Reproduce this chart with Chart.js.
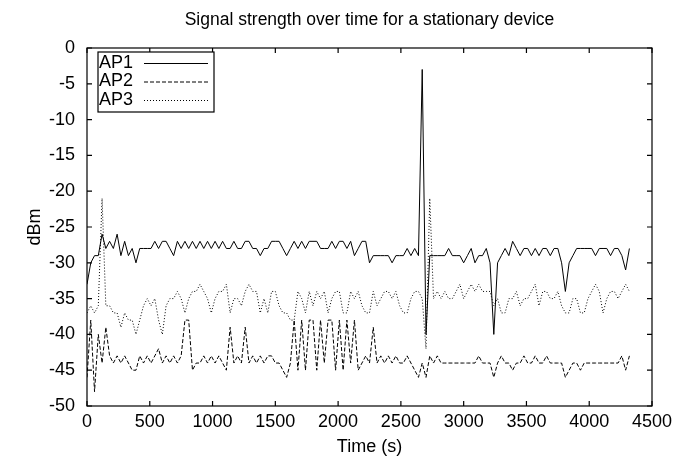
<!DOCTYPE html>
<html>
<head>
<meta charset="utf-8">
<script src="https://cdn.jsdelivr.net/npm/chart.js@4.4.1/dist/chart.umd.min.js"></script>
<style>
  html, body { margin: 0; padding: 0; background: #fff; }
  canvas { display: block; }
</style>
</head>
<body>
<canvas id="chart" width="694" height="466"></canvas>
<script>
// sample times (s)
const times = [
  0, 30, 60, 90, 120, 150, 180, 210, 240, 270,
  300, 330, 360, 390, 420, 450, 480, 510, 540, 570,
  600, 630, 660, 690, 720, 750, 780, 810, 840, 870,
  900, 930, 960, 990, 1020, 1050, 1080, 1110, 1140, 1170,
  1200, 1230, 1260, 1290, 1320, 1350, 1380, 1410, 1440, 1470,
  1500, 1530, 1560, 1590, 1620, 1650, 1680, 1710, 1740, 1770,
  1800, 1830, 1860, 1890, 1920, 1950, 1980, 2010, 2040, 2070,
  2100, 2130, 2160, 2190, 2220, 2250, 2280, 2310, 2340, 2370,
  2400, 2430, 2460, 2490, 2520, 2550, 2580, 2610, 2640, 2670,
  2700, 2730, 2760, 2790, 2820, 2850, 2880, 2910, 2940, 2970,
  3000, 3030, 3060, 3090, 3120, 3150, 3180, 3210, 3240, 3270,
  3300, 3330, 3360, 3390, 3420, 3450, 3480, 3510, 3540, 3570,
  3600, 3630, 3660, 3690, 3720, 3750, 3780, 3810, 3840, 3870,
  3900, 3930, 3960, 3990, 4020, 4050, 4080, 4110, 4140, 4170,
  4200, 4230, 4260, 4290, 4320
];

// signal strength (dBm) per access point
const ap1 = [
  -33, -30, -29, -29, -26, -28, -27, -28, -26, -29,
  -27, -29, -28, -30, -28, -28, -28, -28, -27, -28,
  -27, -27, -28, -29, -27, -28, -27, -28, -27, -28,
  -27, -28, -27, -28, -27, -28, -27, -28, -28, -27,
  -28, -28, -27, -27, -28, -28, -29, -28, -28, -27,
  -27, -27, -28, -29, -28, -27, -28, -27, -28, -27,
  -27, -27, -28, -28, -28, -27, -28, -27, -27, -28,
  -27, -29, -28, -27, -27, -30, -29, -29, -29, -29,
  -29, -30, -29, -29, -29, -28, -29, -28, -29, -3,
  -40, -29, -29, -29, -29, -29, -28, -29, -29, -29,
  -30, -29, -28, -30, -29, -29, -28, -30, -40, -30,
  -29, -28, -29, -27, -28, -29, -28, -28, -29, -28,
  -29, -28, -28, -29, -28, -28, -30, -34, -30, -29,
  -28, -28, -28, -28, -28, -29, -28, -28, -28, -29,
  -28, -28, -29, -31, -28
];
const ap2 = [
  -46, -38, -48, -40, -44, -39, -43, -44, -43, -44,
  -43, -44, -45, -45, -43, -44, -43, -44, -43, -42,
  -44, -43, -44, -43, -44, -43, -38, -38, -45, -44,
  -44, -43, -44, -43, -44, -43, -44, -45, -39, -44,
  -43, -44, -39, -44, -43, -44, -43, -44, -43, -43,
  -44, -44, -45, -46, -44, -38, -45, -38, -45, -38,
  -38, -45, -38, -44, -38, -38, -45, -38, -45, -38,
  -44, -38, -45, -44, -43, -44, -39, -44, -43, -44,
  -43, -44, -43, -44, -44, -43, -44, -45, -46, -44,
  -46, -43, -44, -43, -44, -44, -44, -44, -44, -44,
  -44, -44, -44, -44, -43, -44, -44, -44, -46, -44,
  -43, -44, -44, -45, -44, -44, -43, -44, -44, -43,
  -44, -44, -43, -44, -44, -44, -44, -46, -45, -44,
  -44, -45, -44, -44, -44, -44, -44, -44, -44, -44,
  -44, -44, -43, -45, -43
];
const ap3 = [
  -37, -36, -37, -36, -21, -36, -36, -37, -37, -39,
  -37, -38, -38, -40, -38, -36, -35, -36, -35, -38,
  -40, -36, -35, -35, -34, -35, -37, -35, -34, -34,
  -33, -34, -35, -37, -35, -34, -34, -33, -37, -35,
  -35, -36, -34, -33, -34, -34, -37, -35, -37, -34,
  -34, -36, -37, -37, -38, -38, -34, -35, -37, -34,
  -36, -34, -35, -34, -37, -35, -34, -34, -37, -37,
  -34, -35, -34, -36, -37, -37, -34, -36, -35, -34,
  -34, -35, -34, -36, -37, -37, -35, -34, -34, -35,
  -42, -21, -35, -34, -35, -34, -35, -35, -34, -33,
  -35, -34, -33, -34, -33, -34, -34, -34, -36, -35,
  -37, -37, -35, -35, -34, -36, -35, -35, -34, -33,
  -36, -34, -34, -35, -35, -34, -36, -37, -37, -35,
  -35, -37, -37, -35, -34, -33, -34, -37, -35, -34,
  -34, -35, -34, -33, -34
];

const seriesNames = ["AP1", "AP2", "AP3"];
const chartTitle = "Signal strength over time for a stationary device";

const fontFamily = "'Liberation Sans', Arial, Helvetica, sans-serif";
const font = { family: fontFamily, size: 18 };

function pontos(valores) {
  return times.map((t, i) => ({ x: t, y: valores[i] }));
}

// título centrado sobre a área do gráfico
const titulo = {
  id: "titulo",
  afterDraw(chart) {
    const ctx = chart.ctx;
    const { left, right } = chart.chartArea;
    ctx.save();
    ctx.font = `17.5px ${fontFamily}`;
    ctx.fillStyle = "#000";
    ctx.textAlign = "center";
    ctx.textBaseline = "middle";
    ctx.fillText(chartTitle, (left + right) / 2, 20);
    ctx.restore();
  }
};

// moldura com marcas para dentro (estilo gnuplot)
const moldura = {
  id: "moldura",
  afterDraw(chart) {
    const ctx = chart.ctx;
    const { left, right, top, bottom } = chart.chartArea;
    const xs = chart.scales.x, ys = chart.scales.y;
    ctx.save();
    ctx.strokeStyle = "#000";
    ctx.lineWidth = 1.2;
    ctx.strokeRect(left, top, right - left, bottom - top);
    ctx.beginPath();
    xs.ticks.forEach(t => {
      const px = xs.getPixelForValue(t.value);
      ctx.moveTo(px, bottom); ctx.lineTo(px, bottom - 5);
      ctx.moveTo(px, top); ctx.lineTo(px, top + 5);
    });
    ys.ticks.forEach(t => {
      const py = ys.getPixelForValue(t.value);
      ctx.moveTo(left, py); ctx.lineTo(left + 5, py);
      ctx.moveTo(right, py); ctx.lineTo(right - 5, py);
    });
    ctx.stroke();
    ctx.restore();
  }
};

// legenda dentro do gráfico: texto à esquerda, amostra da linha à direita
const legenda = {
  id: "legenda",
  afterDraw(chart) {
    const ctx = chart.ctx;
    const { left, top } = chart.chartArea;
    const bx = left + 11, by = top + 4, bw = 116, bh = 60;
    ctx.save();
    ctx.fillStyle = "#fff";
    ctx.fillRect(bx, by, bw, bh);
    ctx.strokeStyle = "#000";
    ctx.lineWidth = 1.2;
    ctx.strokeRect(bx, by, bw, bh);
    ctx.font = `18px ${fontFamily}`;
    ctx.textBaseline = "middle";
    ctx.fillStyle = "#000";
    chart.data.datasets.forEach((ds, i) => {
      const cy = by + 11 + i * 18.5;
      ctx.fillText(ds.label, bx + 1, cy);
      ctx.beginPath();
      ctx.lineWidth = 1;
      ctx.setLineDash(ds.borderDash || []);
      ctx.moveTo(bx + 46, cy + 0.5);
      ctx.lineTo(bx + 110, cy + 0.5);
      ctx.stroke();
      ctx.setLineDash([]);
    });
    ctx.restore();
  }
};

new Chart(document.getElementById("chart"), {
  type: "line",
  data: {
    datasets: [
      { label: seriesNames[0], data: pontos(ap1), borderColor: "#000", borderWidth: 1, borderDash: [] },
      { label: seriesNames[1], data: pontos(ap2), borderColor: "#000", borderWidth: 1, borderDash: [4, 2] },
      { label: seriesNames[2], data: pontos(ap3), borderColor: "#000", borderWidth: 1, borderDash: [1, 2] }
    ]
  },
  options: {
    responsive: false,
    animation: false,
    devicePixelRatio: 1,
    elements: { point: { radius: 0 }, line: { tension: 0 } },
    layout: { padding: { left: 24, right: 42, top: 48, bottom: 8 } },
    plugins: {
      legend: { display: false },
      tooltip: { enabled: false },
      title: { display: false }
    },
    scales: {
      x: {
        type: "linear",
        min: 0,
        max: 4500,
        afterFit(s) { s.height = 52; },
        ticks: { stepSize: 500, color: "#000", font, padding: 5, maxRotation: 0, autoSkip: false, callback: v => String(v) },
        grid: { display: false, drawTicks: false },
        border: { display: false },
        title: { display: true, text: "Time (s)", color: "#000", font, padding: { top: 4, bottom: 0 } }
      },
      y: {
        min: -50,
        max: 0,
        afterFit(s) { s.width = 63; },
        ticks: { stepSize: 5, color: "#000", font, padding: 12, callback: v => String(v) },
        grid: { display: false, drawTicks: false },
        border: { display: false },
        title: { display: true, text: "dBm", color: "#000", font, padding: 0 }
      }
    }
  },
  plugins: [titulo, moldura, legenda]
});
</script>
</body>
</html>
